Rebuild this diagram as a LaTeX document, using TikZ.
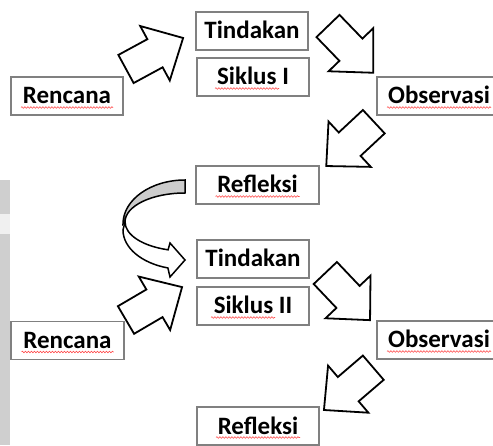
\documentclass[tikz,border=0pt]{standalone}
\usepackage{fontspec}
\setmainfont{Carlito}
\usetikzlibrary{decorations.pathmorphing}

\tikzset{
	kotak/.style={draw=black!50, line width=1.2pt, fill=white, minimum height=38pt, inner sep=0pt,
		text height=16pt, text depth=0pt, font=\fontsize{25}{29}\selectfont\bfseries},
	blok/.style={draw=black, line width=1.8pt, fill=white, line join=miter},
	salah/.style={draw=red!70, line width=0.6pt, decorate,
		decoration={snake, amplitude=0.8pt, segment length=3pt}},
}

% block arrow: tail centre, angle
\newcommand{\blokpanah}[2]{%
	\draw[blok, shift={#1}, rotate=#2] (0,-16) -- (33,-16) -- (33,-31) -- (65,0)
		-- (33,31) -- (33,16) -- (0,16) -- cycle;}
% red wavy line under a word: node, from, to
\newcommand{\ejaan}[3]{%
	\draw[salah] ([shift={(#2,-3.5)}]#1.base) -- ([shift={(#3,-3.5)}]#1.base);}

\begin{document}
\begin{tikzpicture}[x=1pt,y=1pt]
	\useasboundingbox (0,0) rectangle (493,445);
	\clip (0,0) rectangle (493,445);

	% grey strip on the left
	\fill[black!19] (0,0) rectangle (10,265);
	\fill[black!6] (0,211) rectangle (10,231);

	% siklus I
	\node[kotak, minimum width=112pt] (ren1) at (67,349) {Rencana};
	\node[kotak, minimum width=112pt] (tin1) at (252,414) {Tindakan};
	\node[kotak, minimum width=112pt] (sik1) at (253,368) {Siklus I};
	\node[kotak, minimum width=124pt] (obs1) at (439,349) {Observasi};
	\node[kotak, minimum width=123pt] (ref1) at (257.5,260) {Refleksi};

	% siklus II
	\node[kotak, minimum width=112pt] (tin2) at (253,186) {Tindakan};
	\node[kotak, minimum width=112pt] (sik2) at (253,139) {Siklus II};
	\node[kotak, minimum width=124pt] (obs2) at (439,105) {Observasi};
	\node[kotak, minimum width=122pt] (ref2) at (258,19) {Refleksi};
	\node[kotak, minimum width=113pt] (ren2) at (67.5,104.5) {Rencana};

	\ejaan{ren1}{-46}{46}
	\ejaan{sik1}{-38}{26}
	\ejaan{obs1}{-52}{52}
	\ejaan{ref1}{-42}{42}
	\ejaan{sik2}{-42}{22}
	\ejaan{obs2}{-52}{52}
	\ejaan{ref2}{-42}{42}
	\ejaan{ren2}{-46}{46}

	% block arrows
	\blokpanah{(126,376)}{28.5}
	\blokpanah{(328,419)}{-46}
	\blokpanah{(373.8,323.3)}{-137}
	\blokpanah{(126,125)}{30.4}
	\blokpanah{(325.3,172)}{-46.5}
	\blokpanah{(373.3,77.3)}{-139.4}

	% curved arrow from Refleksi to Tindakan
	\filldraw[blok, line width=1.5pt, fill=black!20] (185,265)
		arc[start angle=90, end angle=180, x radius=62, y radius=44] -- (125,223)
		arc[start angle=180, end angle=90, x radius=60, y radius=29] -- cycle;
	\filldraw[blok, line width=1.5pt] (123,215)
		arc[start angle=180, end angle=254, x radius=62, y radius=39.5]
		-- (170,168) -- (185,185) -- (170,202) -- (168.1,195.2)
		arc[start angle=253.6, end angle=180, x radius=60, y radius=29] -- cycle;
\end{tikzpicture}
\end{document}
